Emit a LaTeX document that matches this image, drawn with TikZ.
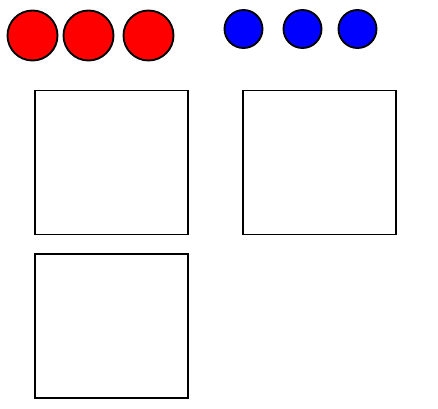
\documentclass[tikz,border=0pt]{standalone}
\usepackage{amsmath}
\usepackage{tikz}

\tikzset{
  redball/.style={circle,draw=black,fill={rgb,255:red,255;green,0;blue,0},line width=1.4pt,inner sep=0pt,minimum size=37.5pt},
  blueball/.style={circle,draw=black,fill={rgb,255:red,0;green,0;blue,255},line width=1.4pt,inner sep=0pt,minimum size=28.5pt},
  panel/.style={rectangle,draw=black,line width=1.4pt,inner sep=0pt,minimum width=114.5pt,minimum height=108pt}
}

\begin{document}
\begin{tikzpicture}[x=0.75pt,y=0.75pt,yscale=-1,xscale=1]
\useasboundingbox (0,0) rectangle (438,408);

% Red circles
\node [redball] (redA) at (32.5,35.5) {};
\node [redball] (redB) at (88.5,35.5) {};
\node [redball] (redC) at (148.5,35.5) {};
% Blue circles
\node [blueball] (blueA) at (243.5,29) {};
\node [blueball] (blueB) at (302.5,29) {};
\node [blueball] (blueC) at (357.5,29) {};

% Squares
\node [panel] (boxA) at (111.5,162.5) {};
\node [panel] (boxB) at (319.5,162.5) {};
\node [panel] (boxC) at (111.5,326) {};

\end{tikzpicture}
\end{document}
